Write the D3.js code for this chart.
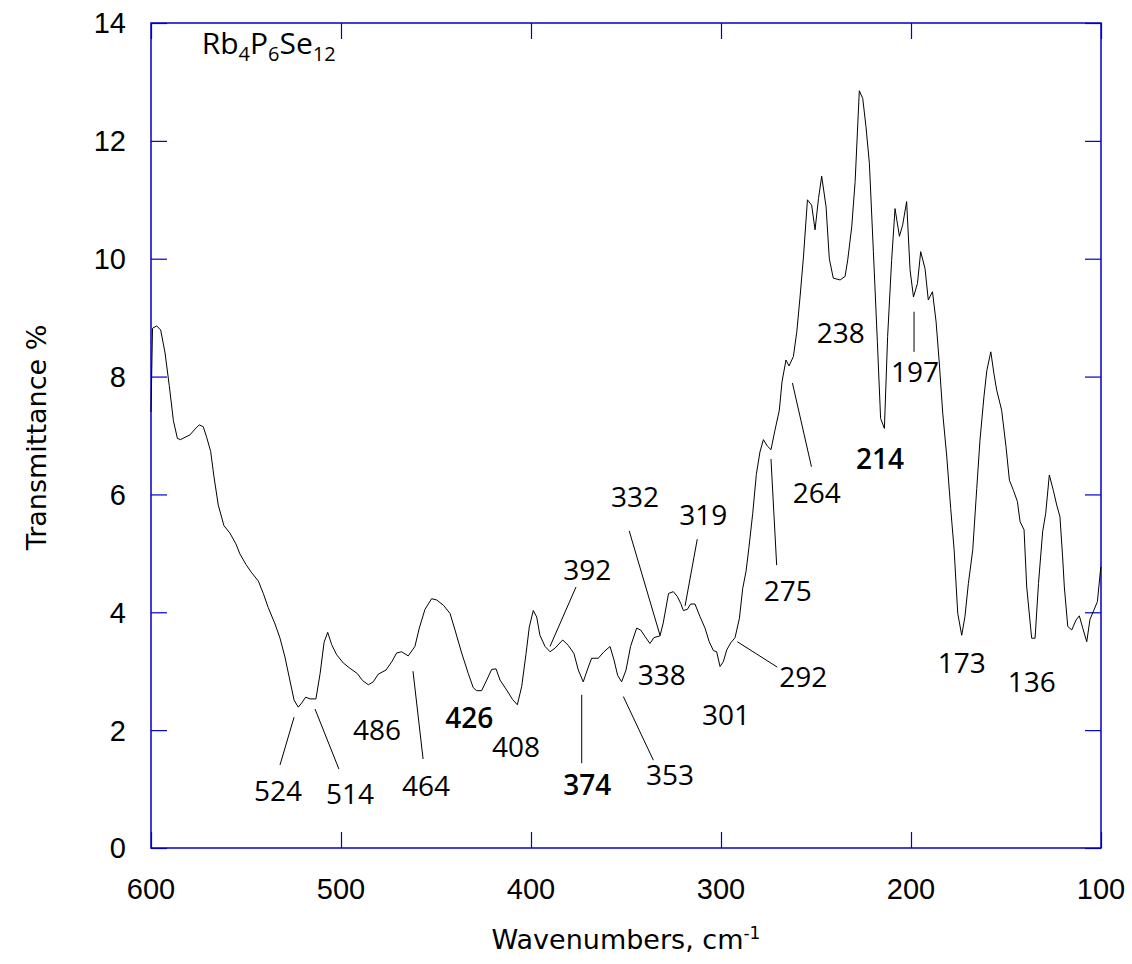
<!DOCTYPE html>
<html>
<head>
<meta charset="utf-8">
<script src="https://cdn.jsdelivr.net/npm/d3@7"></script>
<style>
  body { margin: 0; background: #fff; }
  svg { display: block; }
  .tick-label { font-family: "Liberation Sans", Arial, sans-serif; font-size: 29px; fill: #000; }
  .title { font-family: "DejaVu Sans", sans-serif; font-size: 27px; fill: #000; }
  .peak { font-family: "Open Sans", sans-serif; font-size: 28px; fill: #000; }
</style>
</head>
<body>
<div id="chart"></div>
<script>
const width = 1132;
const height = 964;
const margin = { top: 23, right: 31, bottom: 116, left: 151 };

// spectrum
const wavenumbers = [600.0, 599.2, 597.0, 594.9, 592.6, 590.4, 588.2, 586.1, 584.4, 582.1, 579.5, 576.8, 574.6, 572.5, 570.7, 568.6, 566.9, 564.6, 561.6, 558.4, 555.3, 553.2, 550.0, 547.0, 543.5, 540.9, 538.3, 534.7, 532.1, 529.5, 527.2, 524.7, 522.5, 520.7, 518.6, 516.3, 513.2, 511.0, 508.9, 507.0, 504.9, 502.3, 498.8, 495.3, 491.4, 488.6, 485.6, 483.0, 480.4, 476.3, 473.3, 470.7, 468.1, 464.6, 461.1, 458.8, 455.8, 452.3, 449.7, 446.1, 442.6, 440.0, 436.5, 433.0, 430.4, 428.6, 426.0, 423.3, 420.7, 418.4, 416.3, 412.8, 409.7, 407.2, 404.9, 402.6, 400.9, 398.8, 397.0, 395.3, 392.6, 390.0, 387.4, 383.3, 380.4, 377.4, 375.1, 372.5, 370.4, 368.1, 364.6, 361.6, 358.4, 356.3, 354.4, 352.3, 350.0, 347.6, 344.4, 342.3, 340.0, 337.4, 335.3, 332.1, 330.4, 327.6, 325.1, 323.0, 321.2, 319.8, 317.7, 316.0, 313.7, 311.1, 308.4, 306.2, 304.0, 302.3, 300.5, 298.8, 297.0, 294.9, 292.6, 290.3, 288.6, 286.8, 285.3, 283.3, 281.4, 279.5, 277.7, 275.6, 273.7, 271.6, 269.3, 267.9, 265.8, 264.2, 261.9, 260.1, 258.4, 256.6, 254.5, 252.3, 250.5, 248.7, 247.0, 244.7, 243.0, 240.9, 237.3, 234.7, 233.3, 231.2, 229.4, 227.2, 225.4, 223.7, 221.9, 219.8, 217.7, 216.0, 214.0, 212.3, 210.2, 208.4, 206.1, 204.4, 202.3, 200.5, 198.7, 196.6, 194.9, 192.6, 190.9, 188.7, 186.8, 185.1, 183.3, 181.2, 179.1, 177.3, 175.4, 173.3, 171.6, 169.8, 167.5, 165.4, 163.7, 161.6, 160.1, 158.0, 156.3, 154.9, 152.3, 150.0, 148.2, 146.1, 144.0, 142.6, 140.5, 139.1, 136.5, 134.7, 132.9, 130.7, 129.1, 127.2, 125.1, 123.3, 121.6, 120.2, 119.3, 117.5, 115.4, 113.1, 111.4, 109.6, 107.5, 105.8, 103.7, 101.9, 100.1];
const transmittance = [7.40, 8.82, 8.86, 8.79, 8.40, 7.85, 7.25, 6.95, 6.93, 6.97, 7.01, 7.11, 7.18, 7.15, 6.97, 6.73, 6.31, 5.82, 5.47, 5.34, 5.16, 4.99, 4.81, 4.67, 4.53, 4.32, 4.08, 3.80, 3.56, 3.24, 2.89, 2.51, 2.39, 2.46, 2.56, 2.53, 2.53, 2.96, 3.49, 3.66, 3.45, 3.28, 3.14, 3.05, 2.96, 2.84, 2.77, 2.82, 2.95, 3.02, 3.16, 3.31, 3.33, 3.26, 3.42, 3.73, 4.05, 4.23, 4.21, 4.12, 3.98, 3.70, 3.31, 2.96, 2.72, 2.67, 2.67, 2.85, 3.03, 3.04, 2.85, 2.68, 2.52, 2.43, 2.74, 3.30, 3.75, 4.03, 3.92, 3.61, 3.42, 3.33, 3.39, 3.53, 3.44, 3.30, 3.02, 2.82, 3.02, 3.22, 3.22, 3.33, 3.42, 3.19, 2.93, 2.82, 3.02, 3.42, 3.73, 3.70, 3.59, 3.47, 3.57, 3.60, 3.82, 4.32, 4.35, 4.27, 4.15, 4.03, 4.05, 4.14, 4.14, 3.93, 3.73, 3.50, 3.35, 3.33, 3.08, 3.16, 3.36, 3.48, 3.57, 3.90, 4.40, 4.70, 5.10, 5.68, 6.34, 6.72, 6.93, 6.82, 6.76, 7.09, 7.43, 7.91, 8.28, 8.18, 8.34, 8.76, 9.35, 10.03, 11.00, 10.91, 10.49, 11.02, 11.40, 10.88, 10.00, 9.67, 9.64, 9.70, 9.98, 10.54, 11.31, 12.85, 12.72, 12.24, 11.62, 10.12, 8.59, 7.29, 7.12, 8.68, 9.97, 10.85, 10.38, 10.57, 10.97, 9.81, 9.35, 9.58, 10.12, 9.83, 9.30, 9.44, 8.93, 8.23, 7.38, 6.65, 5.76, 5.06, 3.98, 3.61, 3.93, 4.49, 5.06, 6.10, 6.92, 7.66, 8.10, 8.42, 8.04, 7.77, 7.43, 6.81, 6.24, 6.07, 5.88, 5.54, 5.40, 4.43, 3.56, 3.56, 4.49, 5.37, 5.68, 6.33, 6.07, 5.82, 5.62, 4.94, 4.43, 3.76, 3.70, 3.87, 3.94, 3.73, 3.50, 3.88, 4.04, 4.18, 4.77];

const xTicks = [600, 500, 400, 300, 200, 100];
const yTicks = [0, 2, 4, 6, 8, 10, 12, 14];

// peak labels: text, wavenumber, transmittance where the label sits
const peakLabels = ['524', '514', '486', '464', '426', '408', '374', '353', '392', '332', '319', '338', '301', '292', '275', '264', '214', '238', '197', '173', '136'];
const peakLabelX = [533.2, 495.3, 481.1, 455.3, 432.5, 407.9, 370.4, 326.8, 370.4, 345.3, 309.3, 331.2, 297.4, 256.7, 264.9, 249.6, 216.3, 237.0, 197.9, 173.3, 136.5];
const peakLabelY = [0.97, 0.92, 2.00, 1.05, 2.20, 1.72, 1.07, 1.24, 4.72, 5.96, 5.65, 2.94, 2.26, 2.91, 4.37, 6.02, 6.60, 8.74, 8.08, 3.14, 2.82];
const boldLabels = ['426', '374', '214'];

// leader lines: [wn1, t1, wn2, t2]
const leaders = [
  [524.7, 2.22, 532.1, 1.41],
  [513.7, 2.36, 501.1, 1.34],
  [462.1, 3.00, 456.8, 1.51],
  [373.3, 2.60, 373.3, 1.44],
  [351.4, 2.57, 335.6, 1.49],
  [376.3, 4.43, 390.0, 3.42],
  [348.3, 5.38, 332.1, 3.61],
  [312.5, 5.24, 318.9, 4.11],
  [291.4, 3.50, 270.4, 3.07],
  [273.7, 6.60, 270.7, 4.80],
  [262.4, 7.89, 252.4, 6.47],
  [198.4, 9.10, 198.4, 8.42]
];

const svg = d3.select('#chart')
  .append('svg')
  .attr('width', width)
  .attr('height', height);

const x = d3.scaleLinear()
  .domain([600, 100])
  .range([margin.left, width - margin.right]);

const y = d3.scaleLinear()
  .domain([0, 14])
  .range([height - margin.bottom, margin.top]);

const frameColor = '#0000cc';
const tickLen = 16;

// inward ticks on all four sides
const axes = [
  d3.axisBottom(x).tickValues(xTicks).tickSize(tickLen),
  d3.axisTop(x).tickValues(xTicks).tickSize(tickLen),
  d3.axisLeft(y).tickValues(yTicks).tickSize(tickLen),
  d3.axisRight(y).tickValues(yTicks).tickSize(tickLen)
];
const axisPos = [
  `translate(0,${height - margin.bottom})`,
  `translate(0,${margin.top})`,
  `translate(${margin.left},0)`,
  `translate(${width - margin.right},0)`
];
const inward = ['scale(1,-1)', 'scale(1,-1)', 'scale(-1,1)', 'scale(-1,1)'];

axes.forEach((ax, i) => {
  const g = svg.append('g').attr('transform', axisPos[i]);
  g.call(ax.tickFormat(''));
  g.select('.domain').remove();
  g.selectAll('.tick line')
    .attr('stroke', frameColor)
    .attr('stroke-width', 1.2)
    .attr('transform', inward[i]);
  g.selectAll('.tick text').remove();
});

svg.append('rect')
  .attr('x', margin.left)
  .attr('y', margin.top)
  .attr('width', width - margin.left - margin.right)
  .attr('height', height - margin.top - margin.bottom)
  .attr('fill', 'none')
  .attr('stroke', frameColor)
  .attr('stroke-width', 1.5);

// tick labels
svg.append('g')
  .selectAll('text')
  .data(xTicks)
  .join('text')
  .attr('class', 'tick-label')
  .attr('x', d => x(d))
  .attr('y', height - margin.bottom + 51)
  .attr('text-anchor', 'middle')
  .text(d => d);

svg.append('g')
  .selectAll('text')
  .data(yTicks)
  .join('text')
  .attr('class', 'tick-label')
  .attr('x', margin.left - 25)
  .attr('y', d => y(d))
  .attr('dy', '0.36em')
  .attr('text-anchor', 'end')
  .text(d => d);

// axis titles
const xTitle = svg.append('text')
  .attr('class', 'title')
  .attr('x', (margin.left + width - margin.right) / 2)
  .attr('y', height - 15)
  .attr('text-anchor', 'middle');
xTitle.append('tspan').text('Wavenumbers, cm');
xTitle.append('tspan').attr('dy', -10).style('font-size', '17px').text('-1');

svg.append('text')
  .attr('class', 'title')
  .attr('transform', `translate(46,${y(7) + 2}) rotate(-90)`)
  .attr('text-anchor', 'middle')
  .text('Transmittance %');

// spectrum
const spectrum = wavenumbers.map((w, i) => [w, transmittance[i]]);

svg.append('path')
  .datum(spectrum)
  .attr('fill', 'none')
  .attr('stroke', '#000')
  .attr('stroke-width', 1)
  .attr('d', d3.line().x(d => x(d[0])).y(d => y(d[1])));

// leader lines
svg.append('g')
  .selectAll('line')
  .data(leaders)
  .join('line')
  .attr('x1', d => x(d[0]))
  .attr('y1', d => y(d[1]))
  .attr('x2', d => x(d[2]))
  .attr('y2', d => y(d[3]))
  .attr('stroke', '#000')
  .attr('stroke-width', 1);

// peak labels
svg.append('g')
  .selectAll('text')
  .data(peakLabels)
  .join('text')
  .attr('class', 'peak')
  .attr('x', (d, i) => x(peakLabelX[i]))
  .attr('y', (d, i) => y(peakLabelY[i]))
  .attr('dy', '0.36em')
  .attr('text-anchor', 'middle')
  .style('font-weight', d => boldLabels.includes(d) ? 600 : 400)
  .text(d => d);

// compound name
const name = svg.append('text')
  .attr('class', 'peak')
  .attr('x', x(573.3))
  .attr('y', y(13.47))
  .style('font-size', '30px');
[['Rb', false], ['4', true], ['P', false], ['6', true], ['Se', false], ['12', true]].forEach(([t, sub]) => {
  name.append('tspan')
    .attr('dy', sub ? 7 : -7)
    .style('font-size', sub ? '20px' : '30px')
    .text(t);
});
name.select('tspan').attr('dy', 0);
</script>
</body>
</html>
